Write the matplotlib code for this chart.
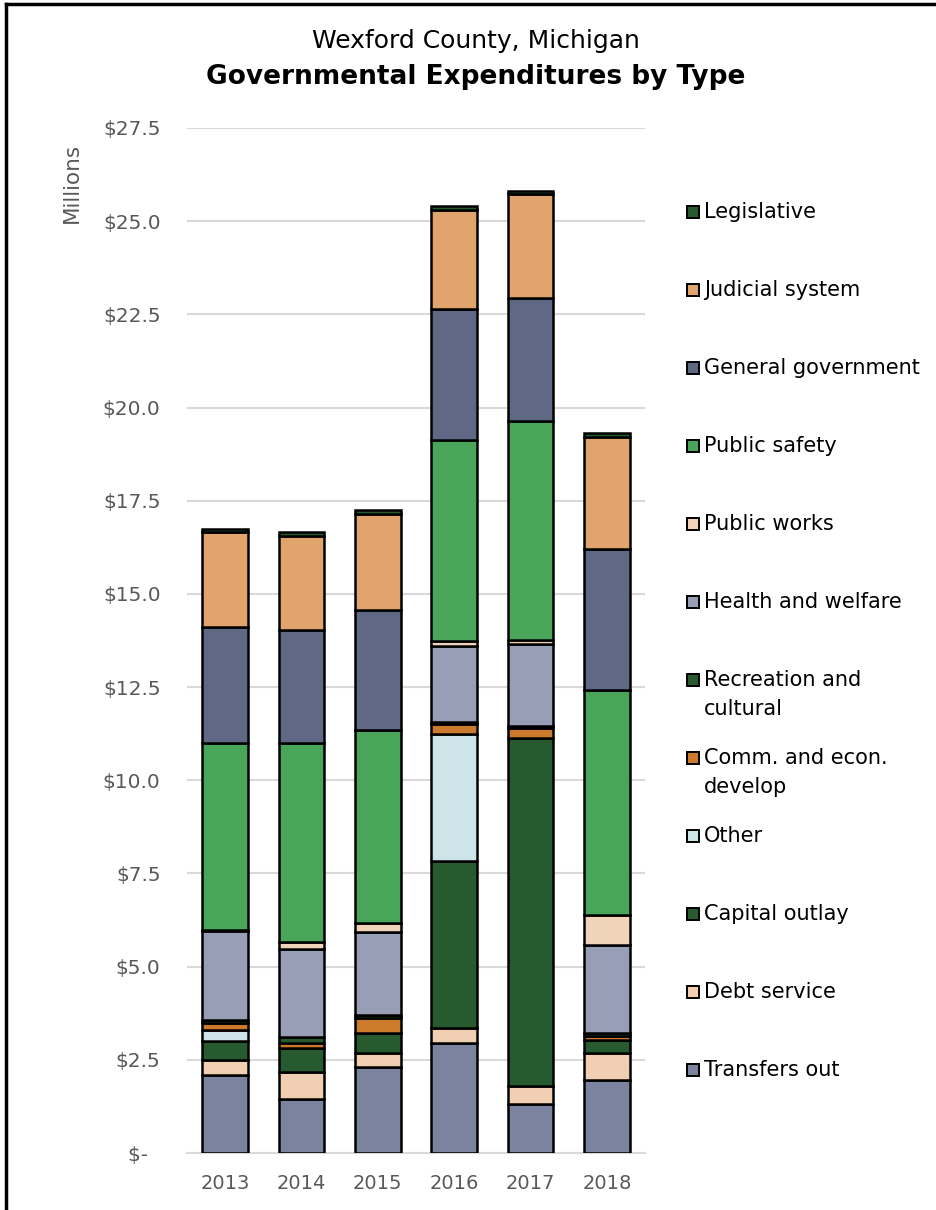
import numpy as np
import matplotlib
matplotlib.use("Agg")
import matplotlib.pyplot as plt
from matplotlib.patches import Rectangle
from matplotlib.lines import Line2D

plt.rcParams['font.family'] = ['DejaVu Sans']

years = ['2013', '2014', '2015', '2016', '2017', '2018']

# bottom to top, $ millions
transfers_out = [2.09, 1.46, 2.31, 2.95, 1.31, 1.95]
debt_service = [0.40, 0.72, 0.36, 0.40, 0.48, 0.74]
capital_outlay = [0.52, 0.64, 0.56, 4.49, 9.34, 0.34]
other = [0.28, 0.00, 0.00, 3.40, 0.00, 0.00]
comm_econ = [0.20, 0.13, 0.40, 0.28, 0.26, 0.12]
recreation = [0.09, 0.15, 0.06, 0.05, 0.06, 0.07]
health_welfare = [2.37, 2.38, 2.24, 2.02, 2.21, 2.37]
public_works = [0.03, 0.18, 0.24, 0.14, 0.11, 0.80]
public_safety = [5.02, 5.34, 5.18, 5.39, 5.86, 6.03]
general_gov = [3.11, 3.03, 3.22, 3.53, 3.32, 3.78]
judicial = [2.54, 2.52, 2.57, 2.65, 2.78, 3.02]
legislative = [0.09, 0.10, 0.10, 0.11, 0.08, 0.11]

series = [
    ("Transfers out", transfers_out, "#7B849F"),
    ("Debt service", debt_service, "#F0CFB2"),
    ("Capital outlay", capital_outlay, "#285A30"),
    ("Other", other, "#CDE4E8"),
    ("Comm. and econ.\ndevelop", comm_econ, "#CC7A2C"),
    ("Recreation and\ncultural", recreation, "#285A30"),
    ("Health and welfare", health_welfare, "#979EB6"),
    ("Public works", public_works, "#F1D3BA"),
    ("Public safety", public_safety, "#49A55A"),
    ("General government", general_gov, "#5F6986"),
    ("Judicial system", judicial, "#E1A46C"),
    ("Legislative", legislative, "#285A30"),
]

W, H = 936, 1210
fig = plt.figure(figsize=(W / 100, H / 100), dpi=100)
ax = fig.add_axes([187 / W, 1 - 1153 / H, (645 - 187) / W, (1153 - 128) / H])

x = np.arange(len(years))
bottom = np.zeros(len(years))
for name, vals, col in series:
    vals = np.array(vals)
    ax.bar(x, vals, 0.6, bottom=bottom, color=col, edgecolor='black', linewidth=1.8, zorder=3)
    bottom += vals

ax.set_xlim(-0.5, 5.5)
ax.set_ylim(0, 27.5)
ticks = np.arange(0, 27.6, 2.5)
ax.set_yticks(ticks)
ax.set_yticklabels(['$-  '] + ['${:.1f}'.format(t) for t in ticks[1:]])
ax.set_xticks(x)
ax.set_xticklabels(years)
ax.grid(axis='y', color='#D9D9D9', linewidth=1.5, zorder=0)
for s in ['top', 'right', 'left']:
    ax.spines[s].set_visible(False)
ax.spines['bottom'].set_color('#D9D9D9')
ax.spines['bottom'].set_linewidth(1.5)
ax.tick_params(axis='both', length=0, colors='#595959')
ax.tick_params(axis='y', pad=19, labelsize=14.5)
ax.tick_params(axis='x', pad=15, labelsize=14)

fig.text(72 / W, 1 - 183 / H, 'Millions', rotation=90, ha='center', va='center',
         color='#595959', fontsize=15.5)

fig.text(476 / W, 1 - 41 / H, 'Wexford County, Michigan', ha='center', va='center',
         fontsize=18, color='black')
fig.text(476 / W, 1 - 77 / H, 'Governmental Expenditures by Type', ha='center', va='center',
         fontsize=19, fontweight='bold', color='black')

# legend, top entry is the top of the stack
for i, (name, vals, col) in enumerate(reversed(series)):
    yc = 212 + 78 * i
    fig.patches.append(Rectangle((687 / W, 1 - (yc + 6) / H), 12 / W, 12 / H,
                                 transform=fig.transFigure, facecolor=col,
                                 edgecolor='black', linewidth=1.4))
    fig.text(704 / W, 1 - (yc - 10) / H, name, ha='left', va='top', fontsize=15,
             color='black', linespacing=1.55)

# frame lines at left and top
fig.add_artist(Line2D([6 / W, 6 / W], [0, 1 - 4 / H], transform=fig.transFigure,
                      color='black', linewidth=2.5))
fig.add_artist(Line2D([6 / W, 1], [1 - 4 / H, 1 - 4 / H], transform=fig.transFigure,
                      color='black', linewidth=2.5))

fig.savefig('out.png', dpi=100)
